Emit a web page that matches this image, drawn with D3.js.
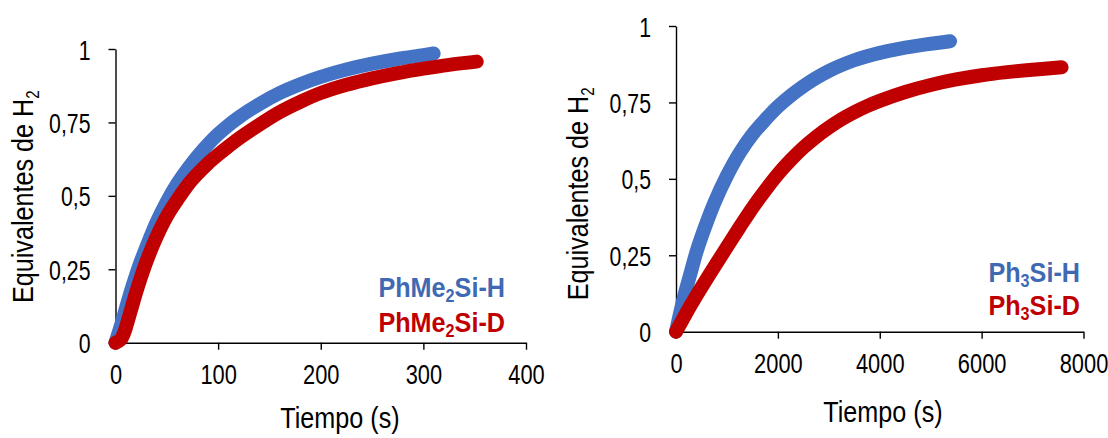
<!DOCTYPE html>
<html>
<head>
<meta charset="utf-8">
<script src="https://cdn.jsdelivr.net/npm/d3@7"></script>
<style>
  html, body { margin: 0; padding: 0; background: #ffffff; }
  svg { display: block; }
</style>
</head>
<body>
<svg id="fig" width="1108" height="438"></svg>
<script>
// ---- Data: H2 evolution (equivalents) vs time (s) ----
// PhMe2Si-H / PhMe2Si-D
const phme2TimeH = [0, 5, 10, 15, 20, 25, 30, 40, 50, 60, 70, 80, 90, 100, 110, 120, 140, 160, 180, 200, 225, 250, 275, 300, 310];
const phme2EqH   = [0, 0.055, 0.115, 0.175, 0.23, 0.28, 0.325, 0.41, 0.48, 0.54, 0.59, 0.635, 0.675, 0.71, 0.74, 0.767, 0.812, 0.85, 0.88, 0.905, 0.93, 0.95, 0.966, 0.979, 0.985];
const phme2TimeD = [0, 5, 8, 10, 15, 20, 25, 30, 40, 50, 60, 70, 80, 90, 100, 110, 120, 140, 160, 180, 200, 225, 250, 275, 300, 325, 352];
const phme2EqD   = [0, 0.01, 0.03, 0.05, 0.11, 0.17, 0.225, 0.275, 0.36, 0.43, 0.485, 0.535, 0.575, 0.61, 0.64, 0.668, 0.695, 0.742, 0.785, 0.82, 0.85, 0.878, 0.9, 0.918, 0.933, 0.946, 0.957];

// Ph3Si-H / Ph3Si-D
const ph3TimeH = [0, 100, 200, 300, 400, 500, 750, 1000, 1250, 1500, 1750, 2000, 2250, 2500, 2750, 3000, 3250, 3500, 3750, 4000, 4250, 4500, 4750, 5000, 5200, 5380];
const ph3EqH   = [0, 0.075, 0.14, 0.2, 0.26, 0.31, 0.42, 0.51, 0.585, 0.645, 0.693, 0.736, 0.772, 0.803, 0.83, 0.853, 0.872, 0.888, 0.901, 0.912, 0.921, 0.929, 0.936, 0.942, 0.946, 0.95];
const ph3TimeD = [0, 100, 250, 500, 750, 1000, 1250, 1500, 1750, 2000, 2250, 2500, 2750, 3000, 3250, 3500, 3750, 4000, 4500, 5000, 5500, 6000, 6500, 7000, 7570];
const ph3EqD   = [0, 0.03, 0.075, 0.145, 0.212, 0.277, 0.342, 0.405, 0.462, 0.515, 0.561, 0.602, 0.637, 0.668, 0.695, 0.718, 0.738, 0.755, 0.784, 0.807, 0.825, 0.839, 0.849, 0.857, 0.865];

// ---- Axis ticks ----
const yTicks = [0, 0.25, 0.5, 0.75, 1];
const yTickLabels = ["0", "0,25", "0,5", "0,75", "1"];
const xTicksLeft = [0, 100, 200, 300, 400];
const xTicksRight = [0, 2000, 4000, 6000, 8000];

// ---- Styling ----
const COLOR_H = "#4472C4";
const COLOR_D = "#C00000";
const TEXT_H = "#3F69B3";
const FONT = "'Liberation Sans', Arial, Helvetica, sans-serif";

const svg = d3.select("#fig");
svg.append("rect").attr("width", 1108).attr("height", 438).attr("fill", "#ffffff");

// Text with optional subscript parts, horizontally condensed by sx
function label(g, opts) {
  const t = g.append("text")
    .attr("transform", `translate(${opts.x},${opts.y})` + (opts.rotate ? ` rotate(${opts.rotate})` : "") + ` scale(${opts.sx},1)`)
    .attr("text-anchor", opts.anchor || "start")
    .attr("font-family", FONT)
    .attr("font-size", opts.size)
    .attr("font-weight", opts.weight || "normal")
    .attr("fill", opts.fill || "#000");
  opts.parts.forEach(p => {
    if (p.sub) {
      t.append("tspan").attr("font-size", opts.subSize).attr("dy", opts.subShift).text(p.text);
    } else {
      t.append("tspan").attr("dy", p.after ? -opts.subShift : 0).text(p.text);
    }
  });
  return t;
}

const panels = [
  {
    xDomain: [0, 400], xRange: [115.5, 526], yRange: [342.7, 49], xTicks: xTicksLeft,
    series: [
      { time: phme2TimeH, eq: phme2EqH, color: COLOR_H },
      { time: phme2TimeD, eq: phme2EqD, color: COLOR_D }
    ],
    xTitle: { x: 340, y: 428.3 }, yTitle: { x: 33.3, y: 196.7 },
    legend: { x: 505, y1: 296.7, y2: 331.7, base: ["PhMe", "Si-H", "Si-D"], sub: "2" }
  },
  {
    xDomain: [0, 8000], xRange: [676, 1083.5], yRange: [331.7, 26], xTicks: xTicksRight,
    series: [
      { time: ph3TimeH, eq: ph3EqH, color: COLOR_H },
      { time: ph3TimeD, eq: ph3EqD, color: COLOR_D }
    ],
    xTitle: { x: 883, y: 421.7 }, yTitle: { x: 587.6, y: 193.8 },
    legend: { x: 1080, y1: 281.7, y2: 315, base: ["Ph", "Si-H", "Si-D"], sub: "3" }
  }
];

panels.forEach(p => {
  const g = svg.append("g");
  const x = d3.scaleLinear().domain(p.xDomain).range(p.xRange);
  const y = d3.scaleLinear().domain([0, 1]).range(p.yRange);

  // Axes
  const yAxis = d3.axisLeft(y).tickValues(yTicks).tickSize(7).tickSizeOuter(0)
    .tickFormat((d, i) => yTickLabels[i]);
  const gy = g.append("g").attr("transform", `translate(${p.xRange[0]},0)`).call(yAxis);

  const xAxis = d3.axisBottom(x).tickValues(p.xTicks).tickSize(7).tickSizeOuter(0)
    .tickFormat(d3.format("d"));
  const gx = g.append("g").attr("transform", `translate(0,${p.yRange[0]})`).call(xAxis);

  [gx, gy].forEach(a => {
    a.selectAll(".domain, .tick line").attr("stroke", "#000").attr("stroke-width", 1.4);
    a.selectAll(".tick text")
      .attr("font-family", FONT).attr("font-size", 28).attr("fill", "#000");
  });
  gy.selectAll(".tick text")
    .attr("x", 0).attr("dy", "0.36em")
    .attr("transform", "translate(-25,0) scale(0.76,1)");
  gx.selectAll(".tick text")
    .attr("y", 0).attr("dy", 0)
    .attr("transform", "translate(0,41.5) scale(0.78,1)");

  // Data series: dense markers rendered as a thick band
  const line = d3.line().curve(d3.curveCatmullRom.alpha(0.5))
    .x(d => x(d[0])).y(d => y(d[1]));
  p.series.forEach(s => {
    const pts = s.time.map((t, i) => [t, s.eq[i]]);
    g.append("path").datum(pts)
      .attr("d", line)
      .attr("fill", "none")
      .attr("stroke", s.color)
      .attr("stroke-width", 14)
      .attr("stroke-linecap", "round")
      .attr("stroke-linejoin", "round");
  });

  // Axis titles
  label(g, { x: p.xTitle.x, y: p.xTitle.y, anchor: "middle", size: 30, sx: 0.84,
    parts: [{ text: "Tiempo (s)" }] });
  label(g, { x: p.yTitle.x, y: p.yTitle.y, anchor: "middle", size: 30, sx: 0.84, rotate: -90,
    subSize: 18, subShift: 6,
    parts: [{ text: "Equivalentes de H" }, { text: "2", sub: true }] });

  // Legend labels
  const L = p.legend;
  label(g, { x: L.x, y: L.y1, anchor: "end", size: 28, weight: "bold", sx: 0.9, fill: TEXT_H,
    subSize: 18, subShift: 5,
    parts: [{ text: L.base[0] }, { text: L.sub, sub: true }, { text: L.base[1], after: true }] });
  label(g, { x: L.x, y: L.y2, anchor: "end", size: 28, weight: "bold", sx: 0.9, fill: COLOR_D,
    subSize: 18, subShift: 5,
    parts: [{ text: L.base[0] }, { text: L.sub, sub: true }, { text: L.base[2], after: true }] });
});
</script>
</body>
</html>
